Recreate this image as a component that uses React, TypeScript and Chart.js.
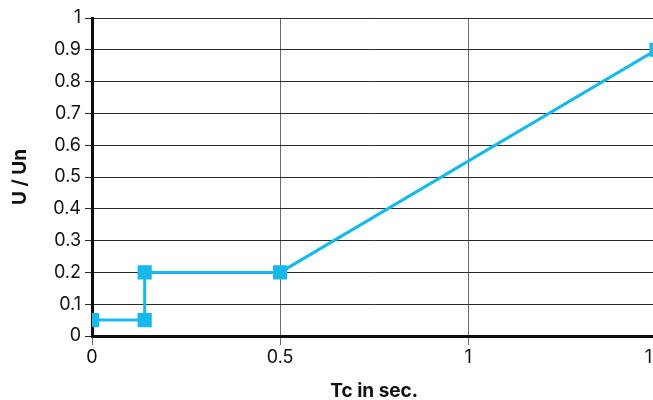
import React, { useEffect, useRef } from "react";
import { Chart, registerables } from "chart.js";

Chart.register(...registerables);

const xValues = [0, 0.14, 0.14, 0.5, 1.5];
const yValues = [0.05, 0.05, 0.2, 0.2, 0.9];
const xTicks = [0, 0.5, 1, 1.5];
const yTicks = [0, 0.1, 0.2, 0.3, 0.4, 0.5, 0.6, 0.7, 0.8, 0.9, 1];
const xTitle = "Tc in sec.";
const yTitle = "U / Un";

const FONT = "Inter, 'Open Sans', sans-serif";

export default function App() {
  const ref = useRef<HTMLCanvasElement>(null);
  useEffect(() => {
    document.body.style.margin = "0";
    document.body.style.overflow = "hidden";
    const ctx = ref.current!;
    const chart = new Chart(ctx, {
      type: "line",
      data: {
        datasets: [
          {
            data: xValues.map((x, i) => ({ x, y: yValues[i] })),
            borderColor: "#18B9EA",
            backgroundColor: "#18B9EA",
            borderWidth: 3,
            pointStyle: "rect",
            pointRadius: 10,
            pointHoverRadius: 10,
            pointBorderWidth: 0,
            tension: 0,
          },
        ],
      },
      options: {
        animation: false,
        responsive: false,
        plugins: { legend: { display: false }, tooltip: { enabled: false } },
        layout: { padding: { top: 18, left: 0, right: 0, bottom: 0 } },
        scales: {
          x: {
            type: "linear",
            min: 0,
            max: 1.5,
            afterBuildTicks: (s: any) => {
              s.ticks = xTicks.map((v) => ({ value: v }));
            },
            afterFit: (s: any) => {
              s.height = 64;
            },
            ticks: {
              color: "#111",
              font: { family: FONT, size: 18 },
              padding: 2,
              maxRotation: 0,
              callback: (v: any) => String(v),
            },
            grid: {
              color: "#6a6a70",
              lineWidth: 1,
              tickLength: 9,
              tickColor: "#6a6a70",
            },
            border: { color: "#0c0c14", width: 3 },
            title: {
              display: true,
              text: xTitle,
              color: "#111",
              font: { family: FONT, size: 19, weight: "bold" },
              padding: { top: 0, bottom: -3 },
            },
          },
          y: {
            type: "linear",
            min: 0,
            max: 1,
            afterBuildTicks: (s: any) => {
              s.ticks = yTicks.map((v) => ({ value: v }));
            },
            afterFit: (s: any) => {
              s.width = 92;
            },
            ticks: {
              color: "#111",
              font: { family: FONT, size: 18 },
              padding: 4,
              callback: (v: any) => String(v),
            },
            grid: {
              color: "#2a2a35",
              lineWidth: 1,
              tickLength: 7,
              tickColor: "#2a2a35",
            },
            border: { color: "#0c0c14", width: 3 },
            title: {
              display: true,
              text: yTitle,
              color: "#111",
              font: { family: FONT, size: 19, weight: "bold" },
              padding: { top: 9, bottom: 0 },
            },
          },
        },
      },
    });
    return () => chart.destroy();
  }, []);
  return (
    <div style={{ width: 670, height: 400 }}>
      <canvas ref={ref} width={670} height={400} style={{ width: 670, height: 400 }} />
    </div>
  );
}
